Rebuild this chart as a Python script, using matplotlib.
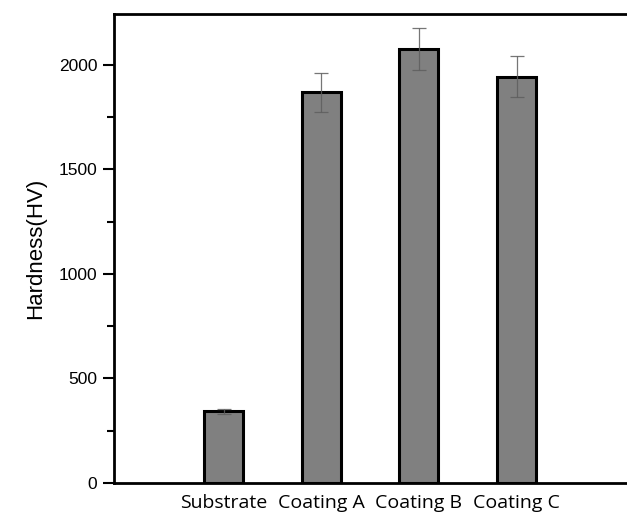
import matplotlib
matplotlib.use("Agg")
import matplotlib.pyplot as plt
import numpy as np
from matplotlib.ticker import MultipleLocator

# Vickers hardness of the bare substrate and three coatings
samples = ["Substrate", "Coating A", "Coating B", "Coating C"]
hardness = [342, 1868, 2076, 1942]
hardness_err = [12, 94, 102, 98]

fig = plt.figure(figsize=(6.27, 5.12), dpi=100)
# axes run off the right edge of the figure, so no right-hand frame shows
ax = fig.add_axes([114 / 627, 1 - 483 / 512, 526 / 627, 469 / 512])

x = np.arange(len(samples))
ax.bar(x, hardness, width=0.4, color="#808080", edgecolor="black",
       linewidth=2.2, zorder=2)
ax.errorbar(x, hardness, yerr=hardness_err, fmt="none", ecolor="#5e5e5e",
            elinewidth=0.9, capsize=5, capthick=0.9, alpha=0.85, zorder=3)

ax.set_xlim(-1.121, 4.263)
ax.set_ylim(0, 2243)
ax.set_xticks(x)
ax.set_xticklabels(samples, fontfamily="Open Sans", fontsize=14)
ax.tick_params(axis="x", length=0, pad=8)

ax.yaxis.set_major_locator(MultipleLocator(500))
ax.yaxis.set_minor_locator(MultipleLocator(250))
ax.tick_params(axis="y", which="major", direction="out", length=8, width=1.5,
               labelsize=12.5, pad=4)
ax.tick_params(axis="y", which="minor", direction="out", length=5, width=1.5)
for lbl in ax.get_yticklabels():
    lbl.set_fontfamily("Liberation Sans")

ax.set_ylabel("Hardness(HV)", fontfamily="Liberation Sans", fontsize=16,
              labelpad=9)

for side in ("left", "bottom", "top"):
    ax.spines[side].set_linewidth(2)
ax.spines["right"].set_visible(False)

fig.savefig("out.png", dpi=100)
